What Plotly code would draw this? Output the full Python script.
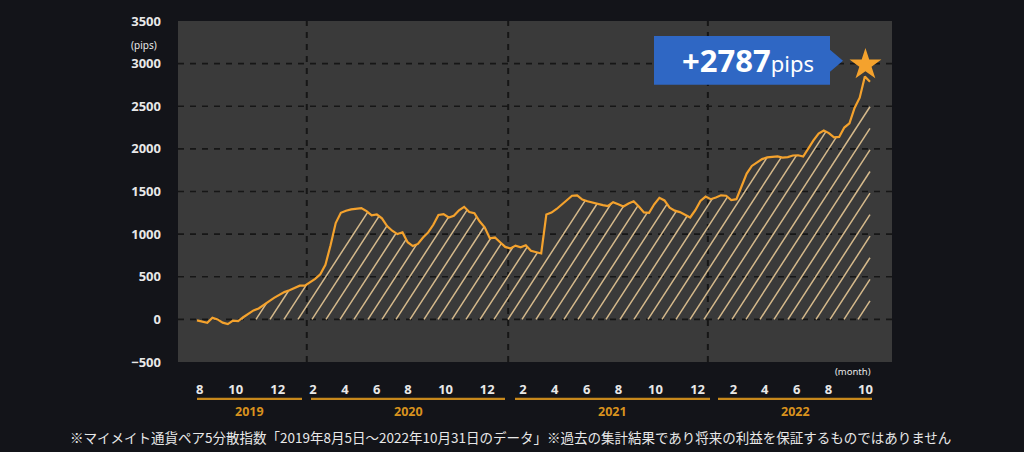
import numpy as np
import pandas as pd
import plotly.graph_objects as go

# ---------------- data ----------------
start_date = "2019-08-05"
end_date = "2022-10-31"

# cumulative pips, sampled at equal steps between start_date and end_date
pips = [
    -12, -25, -40, 20, 0, -38, -55, -15, -20, 25,
    70, 105, 128, 165, 212, 252, 285, 320, 342, 370,
    395, 395, 435, 475, 530, 640, 870, 1130, 1250, 1275,
    1290, 1300, 1305, 1270, 1220, 1230, 1185, 1095, 1040, 1000,
    1020, 905, 860, 885, 960, 1020, 1110, 1225, 1235, 1195,
    1215, 1280, 1320, 1260, 1245, 1150, 1080, 950, 960, 905,
    850, 832, 865, 845, 870, 805, 785, 773, 1230, 1252,
    1295, 1345, 1395, 1450, 1455, 1405, 1385, 1370, 1350, 1340,
    1330, 1375, 1350, 1325, 1360, 1385, 1325, 1255, 1250, 1350,
    1425, 1395, 1310, 1275, 1258, 1225, 1195, 1280, 1390, 1440,
    1410, 1430, 1455, 1450, 1400, 1410, 1555, 1710, 1800, 1845,
    1880, 1900, 1905, 1912, 1897, 1903, 1922, 1925, 1910, 2010,
    2100, 2180, 2215, 2185, 2135, 2140, 2250, 2300, 2480, 2600,
    2850, 2787,
]

month_tick_dates = [
    "2019-08-10", "2019-10-12", "2019-12-25",
    "2020-02-25", "2020-04-21", "2020-06-16", "2020-08-10", "2020-10-15", "2020-12-27",
    "2021-02-28", "2021-04-25", "2021-06-20", "2021-08-15", "2021-10-19", "2022-01-01",
    "2022-03-05", "2022-04-29", "2022-06-24", "2022-08-19", "2022-10-23",
]
month_labels = ["8", "10", "12",
                "2", "4", "6", "8", "10", "12",
                "2", "4", "6", "8", "10", "12",
                "2", "4", "6", "8", "10"]
year_labels = ["2019", "2020", "2021", "2022"]
year_divider_dates = ["2020-02-14", "2021-02-02", "2022-01-19"]
y_ticks = [-500, 0, 500, 1000, 1500, 2000, 2500, 3000, 3500]
grid_values = [0, 500, 1000, 1500, 2000, 2500, 3000]

footer = ("※マイメイト通貨ペア5分散指数「2019年8月5日～2022年10月31日のデータ」"
          "※過去の集計結果であり将来の利益を保証するものではありません")

# ---------------- layout constants ----------------
W, H = 1024, 452
L, R, T, B = 178, 132, 19, 90
PW, PH = W - L - R, H - T - B
Y_RANGE = [-500, 3500]

BG = "#131419"
PLOT_BG = "#3a3a3a"
ORANGE = "#f4a22d"
HATCH = "#d6ba8c"
GRID = "#161616"
BLUE = "#2f67c4"
TEXT = "#e8e8e8"
YEAR_COL = "#d8921e"


def xp(px):
    return (px - L) / PW


def yp(py):
    return (H - B - py) / PH


dates = pd.date_range(start_date, end_date, periods=len(pips))
x_range = [dates[0] - pd.Timedelta(days=33.4), dates[-1] + pd.Timedelta(days=38.7)]

# ---------------- hatch (derived from the series) ----------------
range_days = (x_range[1] - x_range[0]) / pd.Timedelta(days=1)
px_per_day = PW / range_days
units_per_px = (Y_RANGE[1] - Y_RANGE[0]) / PH
day_pos = np.asarray((dates - dates[0]) / pd.Timedelta(days=1), dtype=float)
vals = np.asarray(pips, dtype=float)

fine_d = np.linspace(0, day_pos[-1], 6000)
fine_px = fine_d * px_per_day
fine_h = np.interp(fine_d, day_pos, vals) / units_per_px

slope = 1.55
spacing = 14.0
hx, hy = [], []
for b in np.arange(3.0, fine_px[-1], spacing):
    m = fine_px >= b
    xs, hs = fine_px[m], fine_h[m]
    if hs.size == 0 or hs[0] <= 0:
        continue
    rise = (xs - b) * slope
    hit = np.nonzero(rise >= hs)[0]
    if hit.size:
        xe, ye = xs[hit[0]], hs[hit[0]]
    else:
        xe, ye = xs[-1], rise[-1]
    for xx, yy in ((b, 0.0), (xe, ye)):
        hx.append(dates[0] + pd.Timedelta(days=float(xx / px_per_day)))
        hy.append(yy * units_per_px)
    hx.append(None)
    hy.append(None)

# ---------------- figure ----------------
fig = go.Figure()
fig.add_trace(go.Scatter(x=hx, y=hy, mode="lines", line=dict(color=HATCH, width=1.5),
                         hoverinfo="skip", connectgaps=False))
fig.add_trace(go.Scatter(x=dates, y=pips, mode="lines",
                         line=dict(color=ORANGE, width=2.2)))
fig.add_trace(go.Scatter(x=[dates[-1] - pd.Timedelta(days=8)], y=[pips[-1] + 200],
                         mode="markers",
                         marker=dict(symbol="star", size=24, color=ORANGE,
                                     line=dict(width=0))))

shapes = []
for v in grid_values:
    shapes.append(dict(type="line", xref="paper", x0=0, x1=1, yref="y", y0=v, y1=v,
                       line=dict(color=GRID, width=1.6, dash="6px,6px"), layer="below"))
for d in year_divider_dates:
    shapes.append(dict(type="line", xref="x", x0=d, x1=d, yref="paper", y0=0, y1=1,
                       line=dict(color=GRID, width=2, dash="6px,6px"), layer="below"))

# year underline segments (pixel spans of the label strip)
year_spans = [(197, 302), (311, 505), (515, 710), (718, 872)]
for (a, b) in year_spans:
    shapes.append(dict(type="line", xref="paper", yref="paper",
                       x0=xp(a), x1=xp(b), y0=yp(399), y1=yp(399),
                       line=dict(color="#c8891c", width=2.2)))

# callout box with pointer
pts = [(654, 34), (830, 34), (830, 48), (843, 59), (830, 70), (830, 83), (654, 83)]
path = "M " + " L ".join(f"{xp(a):.5f},{yp(b):.5f}" for a, b in pts) + " Z"
shapes.append(dict(type="path", xref="paper", yref="paper", path=path,
                   fillcolor=BLUE, line=dict(width=0), layer="above"))


def note(x, y, text, size, color, family="Noto Sans", xanchor="center"):
    return dict(xref="paper", yref="paper", x=xp(x), y=yp(y), text=text,
                showarrow=False, xanchor=xanchor, yanchor="middle",
                font=dict(size=size, color=color, family=family))


annotations = []
for (a, b), lab in zip(year_spans, year_labels):
    annotations.append(note((a + b) / 2, 412, f"<b>{lab}</b>", 12.5, YEAR_COL))
annotations.append(note(159, 43, "(pips)", 10, TEXT, xanchor="right"))
annotations.append(note(853, 372, "(month)", 9.5, TEXT))
annotations.append(note(510, 437, footer, 13.5, TEXT, family="Noto Sans CJK JP"))
annotations.append(note(748, 58,
                        f"<b>+{pips[-1]}</b><span style='font-size:22px'>pips</span>",
                        31, "#ffffff"))

fig.update_layout(
    width=W, height=H,
    margin=dict(l=L, r=R, t=T, b=B, pad=0),
    paper_bgcolor=BG, plot_bgcolor=PLOT_BG,
    showlegend=False,
    font=dict(family="Noto Sans", color=TEXT),
    shapes=shapes, annotations=annotations,
    xaxis=dict(type="date", range=x_range, tickmode="array",
               tickvals=month_tick_dates, ticktext=month_labels,
               showgrid=False, zeroline=False, showline=False, ticks="",
               tickfont=dict(size=13, color=TEXT, family="Noto Sans", weight="bold"),
               ticklabelstandoff=18, fixedrange=True),
    yaxis=dict(range=Y_RANGE, tickmode="array", tickvals=y_ticks,
               showgrid=False, zeroline=False, showline=False, ticks="",
               tickfont=dict(size=13, color=TEXT, family="Noto Sans", weight="bold"),
               ticklabelstandoff=16, fixedrange=True),
)

fig.write_html("out.html", config={"displayModeBar": False},
               post_script="document.body.style.margin='0';")
